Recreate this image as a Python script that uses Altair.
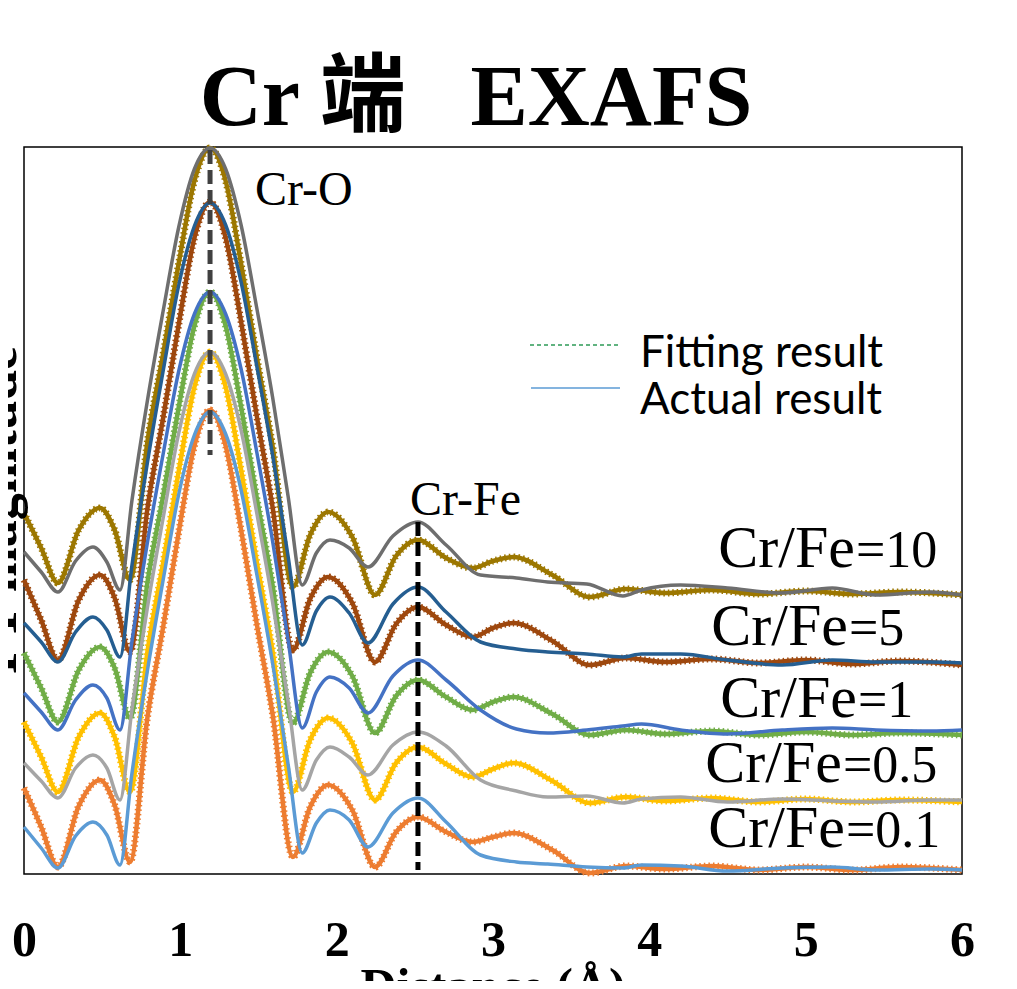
import altair as alt
import pandas as pd

SERIF = "Liberation Serif, Times New Roman, serif"
TITLE_FONT = "Liberation Serif, Noto Sans CJK SC, serif"
SANS = "Lato, Open Sans, sans-serif"

# ---------------- data (x in Å, FT magnitude in arbitrary stacked units) ----------------
TICKS = [0, 1, 2, 3, 4, 5, 6]
RATIOS = ["10", "5", "1", "0.5", "0.1"]

X_FIT = [0, 0.11, 0.217, 0.35, 0.486, 0.58, 0.678, 0.79, 0.89, 0.99, 1.09, 1.19, 1.29,
         1.39, 1.49, 1.59, 1.72, 1.83, 1.945, 2.1, 2.245, 2.38, 2.52, 2.7, 2.87, 3.0,
         3.13, 3.38, 3.62, 3.85, 4.1, 4.4, 4.7, 5.0, 5.3, 5.6, 6.0]
FIT_10 = [3.61, 3.26, 2.91, 3.44, 3.66, 3.44, 2.94, 4.33, 5.20, 6.11, 6.93, 7.26, 6.93,
          6.09, 5.16, 4.28, 2.87, 3.39, 3.62, 3.37, 2.79, 3.18, 3.34, 3.16, 3.06, 3.13,
          3.17, 2.99, 2.77, 2.85, 2.81, 2.84, 2.80, 2.83, 2.80, 2.82, 2.79]
FIT_5 = [2.94, 2.54, 2.14, 2.74, 2.99, 2.76, 2.22, 3.66, 4.56, 5.50, 6.36, 6.72, 6.36,
         5.51, 4.57, 3.67, 2.24, 2.75, 2.97, 2.71, 2.12, 2.50, 2.67, 2.49, 2.37, 2.46,
         2.51, 2.33, 2.09, 2.16, 2.12, 2.15, 2.11, 2.14, 2.10, 2.13, 2.09]
FIT_1 = [2.21, 1.86, 1.52, 2.04, 2.27, 2.06, 1.56, 2.92, 3.78, 4.67, 5.48, 5.82, 5.48,
         4.66, 3.75, 2.89, 1.51, 2.01, 2.22, 1.98, 1.41, 1.78, 1.94, 1.77, 1.64, 1.72,
         1.77, 1.60, 1.39, 1.44, 1.40, 1.43, 1.39, 1.42, 1.39, 1.41, 1.39]
FIT_05 = [1.52, 1.17, 0.82, 1.37, 1.61, 1.37, 0.82, 2.23, 3.11, 4.03, 4.87, 5.22, 4.87,
          4.03, 3.11, 2.23, 0.82, 1.34, 1.56, 1.31, 0.74, 1.11, 1.27, 1.10, 0.97, 1.05,
          1.11, 0.93, 0.71, 0.77, 0.73, 0.76, 0.72, 0.75, 0.72, 0.74, 0.72]
FIT_01 = [0.86, 0.47, 0.07, 0.68, 0.94, 0.69, 0.12, 1.57, 2.47, 3.42, 4.28, 4.64, 4.28,
          3.43, 2.49, 1.60, 0.17, 0.67, 0.89, 0.64, 0.07, 0.42, 0.57, 0.42, 0.32, 0.37,
          0.41, 0.24, 0.01, 0.08, 0.05, 0.08, 0.04, 0.07, 0.04, 0.07, 0.04]

X_ACT = [0, 0.11, 0.217, 0.33, 0.441, 0.53, 0.614, 0.69, 0.79, 0.89, 0.99, 1.09, 1.19,
         1.29, 1.39, 1.49, 1.59, 1.69, 1.78, 1.87, 1.957, 2.08, 2.20, 2.36, 2.52, 2.7,
         2.92, 3.15, 3.35, 3.6, 3.83, 3.95, 4.2, 4.5, 4.85, 5.17, 5.45, 5.8, 6.0]
ACT_10 = [3.22, 3.02, 2.82, 3.13, 3.27, 3.12, 2.84, 3.73, 4.74, 5.63, 6.47, 7.05, 7.26,
          7.05, 6.48, 5.65, 4.77, 3.77, 2.89, 3.21, 3.34, 3.26, 3.07, 3.38, 3.52, 3.29,
          2.99, 2.96, 2.92, 2.90, 2.78, 2.84, 2.89, 2.86, 2.81, 2.86, 2.79, 2.82, 2.79]
ACT_5 = [2.51, 2.32, 2.12, 2.42, 2.57, 2.44, 2.17, 3.08, 4.12, 5.03, 5.89, 6.48, 6.71,
         6.49, 5.91, 5.07, 4.19, 3.17, 2.29, 2.63, 2.77, 2.61, 2.31, 2.70, 2.87, 2.62,
         2.32, 2.25, 2.22, 2.20, 2.17, 2.20, 2.20, 2.14, 2.09, 2.14, 2.12, 2.12, 2.11]
ACT_1 = [1.81, 1.62, 1.44, 1.74, 1.89, 1.76, 1.44, 2.32, 3.32, 4.20, 5.03, 5.60, 5.82,
         5.60, 5.04, 4.21, 3.33, 2.33, 1.46, 1.82, 1.97, 1.86, 1.61, 1.98, 2.14, 1.94,
         1.64, 1.45, 1.41, 1.44, 1.48, 1.50, 1.44, 1.40, 1.44, 1.46, 1.44, 1.43, 1.44]
ACT_05 = [1.11, 0.93, 0.76, 1.06, 1.19, 1.06, 0.74, 1.64, 2.67, 3.56, 4.41, 5.00, 5.22,
          5.00, 4.43, 3.60, 2.72, 1.72, 0.84, 1.14, 1.27, 1.17, 0.99, 1.29, 1.42, 1.28,
          0.94, 0.83, 0.77, 0.78, 0.71, 0.75, 0.77, 0.72, 0.75, 0.73, 0.72, 0.74, 0.74]
ACT_01 = [0.47, 0.26, 0.06, 0.38, 0.52, 0.39, 0.09, 1.00, 2.04, 2.94, 3.80, 4.39, 4.62,
          4.40, 3.83, 2.99, 2.11, 1.09, 0.21, 0.51, 0.64, 0.54, 0.27, 0.61, 0.76, 0.52,
          0.19, 0.12, 0.10, 0.07, 0.06, 0.09, 0.08, 0.03, 0.06, 0.07, 0.04, 0.05, 0.04]

FIT_COLORS = ["#9C7700", "#9E480E", "#70AD47", "#FFC000", "#ED7D31"]
ACT_COLORS = ["#6E6E6E", "#255E91", "#4472C4", "#A5A5A5", "#5B9BD5"]

# reference lines (Cr-O and Cr-Fe distances)
PEAK_X = [1.19, 2.52]
PEAK_TOP = [7.24, 3.52]
PEAK_BOTTOM = [4.19, 0.04]
PEAK_COLORS = ["#404040", "#000000"]

# ---------------- tables ----------------
fit_series = [FIT_10, FIT_5, FIT_1, FIT_05, FIT_01]
act_series = [ACT_10, ACT_5, ACT_1, ACT_05, ACT_01]
fit_rows, act_rows = [], []
for r, ys in zip(RATIOS, fit_series):
    for x, y in zip(X_FIT, ys):
        fit_rows.append({"x": x, "y": y, "series": "fit " + r})
for r, ys in zip(RATIOS, act_series):
    for x, y in zip(X_ACT, ys):
        act_rows.append({"x": x, "y": y, "series": "act " + r})
df_fit = pd.DataFrame(fit_rows)
df_act = pd.DataFrame(act_rows)
df_peaks = pd.DataFrame({"x": PEAK_X, "y": PEAK_TOP, "y2": PEAK_BOTTOM, "c": PEAK_COLORS})

SERIES = ["fit " + r for r in RATIOS] + ["act " + r for r in RATIOS]
COLORS = FIT_COLORS + ACT_COLORS

x_enc = alt.X("x:Q", scale=alt.Scale(domain=[0, 6], nice=False, zero=False),
              axis=alt.Axis(values=TICKS, format="d", labelFont=SERIF, labelFontSize=50,
                            labelFontWeight="bold", labelColor="black", labelPadding=41,
                            labelFlush=False, labelOverlap=False, domain=False, ticks=False,
                            grid=False, title=None))
y_enc = alt.Y("y:Q", scale=alt.Scale(domain=[0, 7.27], nice=False, zero=False), axis=None)
c_enc = alt.Color("series:N", scale=alt.Scale(domain=SERIES, range=COLORS), legend=None)

fit_base = alt.Chart(df_fit).mark_line(strokeWidth=4.5, interpolate="monotone").encode(
    x=x_enc, y=y_enc, color=c_enc)
fit_tex = alt.Chart(df_fit).mark_line(strokeWidth=7, strokeDash=[1.5, 3],
                                      interpolate="monotone").encode(x=x_enc, y=y_enc, color=c_enc)
act = alt.Chart(df_act).mark_line(strokeWidth=3.5, interpolate="monotone").encode(
    x=x_enc, y=y_enc, color=c_enc)
peaks = alt.Chart(df_peaks).mark_rule(strokeWidth=5, strokeDash=[14, 6]).encode(
    x=alt.X("x:Q"), y=alt.Y("y:Q"), y2="y2:Q", color=alt.Color("c:N", scale=None))


def txt(s, x, y, size, weight="normal", font=SERIF, align="left", angle=0):
    return alt.Chart(pd.DataFrame({"t": [s]})).mark_text(
        font=font, fontSize=size, fontWeight=weight, align=align, baseline="alphabetic",
        angle=angle, color="black").encode(text="t:N", x=alt.value(x), y=alt.value(y))


def rule(x1, x2, y, color, width, dash=None):
    kw = dict(color=color, strokeWidth=width)
    if dash:
        kw["strokeDash"] = dash
    return alt.Chart(pd.DataFrame({"a": [0]})).mark_rule(**kw).encode(
        x=alt.value(x1), x2=alt.value(x2), y=alt.value(y))


layers = [fit_base, fit_tex, act, peaks]
# title and axis titles
layers.append(txt("Cr 端\u00a0\u00a0 EXAFS", 452, -22, 86, weight="bold", font=TITLE_FONT,
                  align="center"))
layers.append(txt("Distance (Å)", 469, 856, 50, weight="bold", align="center"))
layers.append(txt("FT magnitude", -8, 363, 54, weight="bold", align="center", angle=270))
# peak annotations
layers.append(txt("Cr-O", 231, 58, 48))
layers.append(txt("Cr-Fe", 386, 368, 48))
# series labels
LABEL_SPLIT_X = [831, 824, 833, 818, 821]
LABEL_BASE_Y = [420, 498, 570, 635, 700]
for r, sx, by in zip(RATIOS, LABEL_SPLIT_X, LABEL_BASE_Y):
    layers.append(txt("Cr/Fe", sx, by, 60, align="right"))
    layers.append(txt("=" + r, sx + 1, by, 52, align="left"))
# manual legend
layers.append(rule(506, 596, 198, "#2E9B57", 1.3, [4, 3]))
layers.append(rule(507, 596, 241, "#5B9BD5", 1.6))
layers.append(txt("Fitting result", 616, 220, 44, font=SANS))
layers.append(txt("Actual result", 616, 267, 44, font=SANS))

chart = alt.layer(*layers).properties(
    width=938, height=727,
    autosize=alt.AutoSizeParams(type="none"),
    padding={"left": 16, "top": 139, "right": 47, "bottom": 107},
    background="white",
).configure_view(stroke="black", strokeWidth=1.5)

chart.save("out.html", embed_options={"renderer": "svg", "actions": False})
